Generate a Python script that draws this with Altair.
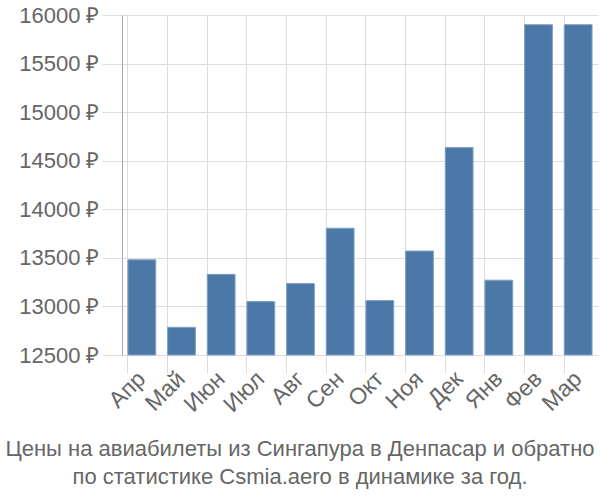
import altair as alt
import pandas as pd

months = ["Апр", "Май", "Июн", "Июл", "Авг", "Сен", "Окт", "Ноя", "Дек", "Янв", "Фев", "Мар"]
prices = [13480, 12785, 13330, 13050, 13235, 13805, 13060, 13570, 14635, 13270, 15900, 15900]
y_ticks = [12500, 13000, 13500, 14000, 14500, 15000, 15500, 16000]
title_lines = ["Цены на авиабилеты из Сингапура в Денпасар и обратно",
               "по статистике Csmia.aero в динамике за год."]

df = pd.DataFrame({"month": months, "price": prices})

FONT = "Liberation Sans"
GRAY = "#666666"

chart = alt.Chart(df).mark_bar(
    color="#4c78a8", stroke="#7f9fc4", strokeWidth=1
).encode(
    x=alt.X("month:N", sort=months, title=None,
            scale=alt.Scale(paddingInner=0.3, paddingOuter=0.15),
            axis=alt.Axis(labelAngle=-45, labelFontSize=23, labelColor=GRAY, labelFont=FONT,
                          bandPosition=0, grid=True, gridColor="#dddddd", tickColor="#dddddd",
                          tickSize=18, domainColor="#dddddd", labelPadding=2,
                          labelAlign="right", labelBaseline="middle")),
    y=alt.Y("price:Q", title=None,
            scale=alt.Scale(domain=[12500, 16000], zero=False, nice=False),
            axis=alt.Axis(values=y_ticks, labelExpr="datum.value + ' ₽'", labelFontSize=22,
                          labelColor=GRAY, labelFont=FONT, grid=True, gridColor="#dddddd",
                          tickColor="#dddddd", tickSize=20, domainColor="#aaaaaa",
                          labelPadding=3)),
    y2=alt.datum(12500),
).properties(
    width=476, height=340,
    title=alt.TitleParams(text=title_lines, orient="bottom", anchor="middle", frame="group",
                          dx=-60, fontSize=22, color=GRAY, font=FONT, fontWeight="normal",
                          offset=22, lineHeight=28),
    autosize=alt.AutoSizeParams(type="none"),
    padding={"left": 122, "top": 15, "right": 2, "bottom": 145},
).configure_view(stroke=None)

chart.save("out.html", embed_options={"renderer": "svg", "actions": False})
